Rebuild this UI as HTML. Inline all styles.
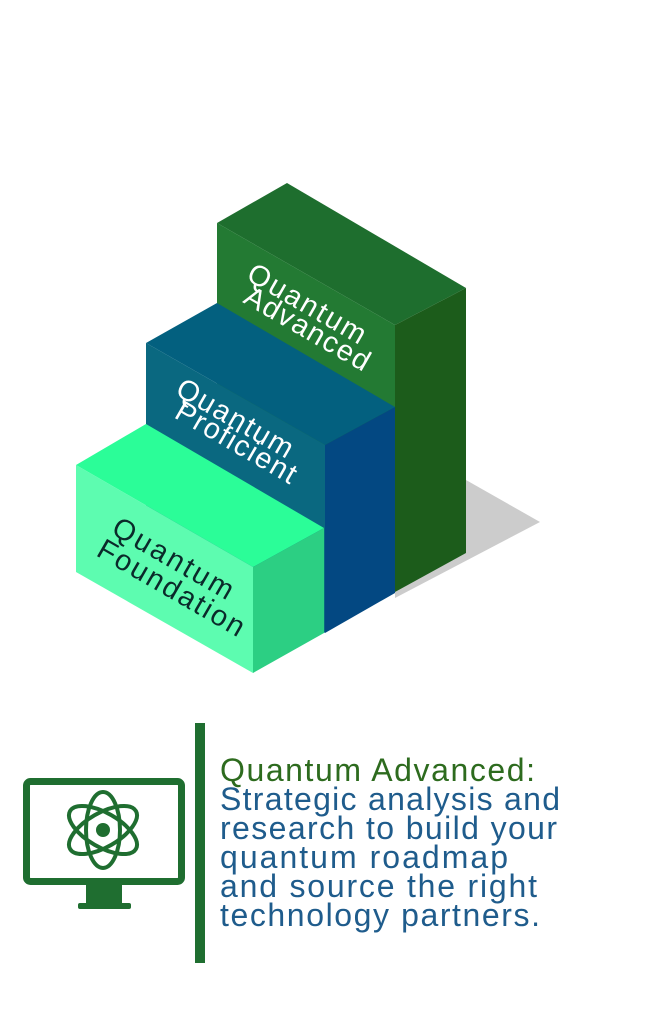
<!DOCTYPE html>
<html><head><meta charset="utf-8"><style>
html,body{margin:0;padding:0;background:#fff;}
body{width:666px;height:1024px;overflow:hidden;}
</style></head><body>
<svg width="666" height="1024" viewBox="0 0 666 1024" xmlns="http://www.w3.org/2000/svg">
<polygon points="466,480 540,522 395,598 395,560" fill="#cccccc"/>
<polygon points="217,223 287,183 466,288 395,325" fill="#1e6e2e"/>
<polygon points="217,223 395,325 395,592 217,490" fill="#237a33"/>
<polygon points="395,325 466,288 466,553 395,592" fill="#1c5c1b"/>
<polygon points="146,343 217,303 395,407 325,445" fill="#03607f"/>
<polygon points="146,343 325,445 325,633 146,530" fill="#0a6880"/>
<polygon points="325,445 395,407 395,593 325,633" fill="#034882"/>
<polygon points="76,465 146,424 324,528 253,567" fill="#2bfd98"/>
<polygon points="76,465 253,567 253,673 76,572" fill="#5dfcb0"/>
<polygon points="253,567 324,528 324,633 253,673" fill="#2ccf83"/>
<g font-family="Liberation Sans, sans-serif" font-size="29">
<text transform="translate(245,279) rotate(30)" fill="#fff" textLength="132" lengthAdjust="spacing">Quantum</text>
<text transform="translate(242,302) rotate(30)" fill="#fff" textLength="140" lengthAdjust="spacing">Advanced</text>
<text transform="translate(174,394) rotate(30)" fill="#fff" textLength="130" lengthAdjust="spacing">Quantum</text>
<text transform="translate(173,417) rotate(30)" fill="#fff" textLength="135" lengthAdjust="spacing">Proficient</text>
<text transform="translate(110,533) rotate(30)" fill="#0a2a2a" textLength="135" lengthAdjust="spacing">Quantum</text>
<text transform="translate(95,555) rotate(30)" fill="#0a2a2a" textLength="165" lengthAdjust="spacing">Foundation</text>
</g>
<rect x="26.5" y="781.5" width="155" height="100" rx="4" fill="none" stroke="#1f6e30" stroke-width="7"/>
<rect x="86" y="885" width="36" height="20" fill="#1f6e30"/>
<rect x="78" y="903" width="53" height="6" rx="2" fill="#1f6e30"/>
<g fill="none" stroke="#1f6e30" stroke-width="4" transform="translate(103,830)">
<ellipse rx="17" ry="38"/>
<ellipse rx="17" ry="38" transform="rotate(60)"/>
<ellipse rx="17" ry="38" transform="rotate(-60)"/>
</g>
<circle cx="103" cy="830" r="7" fill="#1f6e30"/>
<rect x="195" y="723" width="10" height="240" fill="#1f6e30"/>
<g font-family="Liberation Sans, sans-serif" font-size="32">
<text x="220" y="781" fill="#2d6b1e" textLength="315" lengthAdjust="spacing">Quantum Advanced:</text>
<text x="220" y="810" fill="#1f5c8c" textLength="340" lengthAdjust="spacing">Strategic analysis and</text>
<text x="220" y="839" fill="#1f5c8c" textLength="337" lengthAdjust="spacing">research to build your</text>
<text x="220" y="868" fill="#1f5c8c" textLength="288" lengthAdjust="spacing">quantum roadmap</text>
<text x="220" y="897" fill="#1f5c8c" textLength="317" lengthAdjust="spacing">and source the right</text>
<text x="220" y="926" fill="#1f5c8c" textLength="320" lengthAdjust="spacing">technology partners.</text>
</g>
</svg>
</body></html>
